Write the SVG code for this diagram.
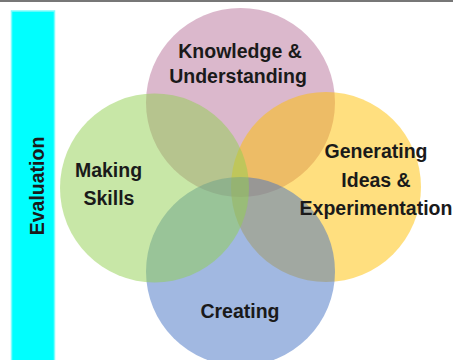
<svg xmlns="http://www.w3.org/2000/svg" width="453" height="360" viewBox="0 0 453 360">
  <style>
    .c { opacity: 0.5; }
    .lbl { font-family: "Liberation Sans", Arial, sans-serif; font-weight: bold; font-size: 19.5px; fill: #1a1a1a; text-anchor: middle; }
  </style>
  <rect x="0" y="0" width="453" height="360" fill="#ffffff"/>
  <rect x="0" y="0" width="453" height="2" fill="#777777"/>
  <g id="evaluation">
    <rect x="11.5" y="11" width="43" height="350" fill="#00ffff" stroke="#7ffcfc" stroke-width="1.5"/>
    <text class="lbl" transform="translate(44,186) rotate(-90)">Evaluation</text>
  </g>
  <g id="knowledge"><circle class="c" cx="240.5" cy="102.5" r="94.5" fill="#b77199"/></g>
  <g id="generating"><circle class="c" cx="326" cy="187" r="95" fill="#ffc000"/></g>
  <g id="creating"><circle class="c" cx="240.5" cy="271.5" r="94.5" fill="#4472c4"/></g>
  <g id="making"><circle class="c" cx="154.5" cy="188" r="94.5" fill="#92d050"/></g>
  <g id="connectors"></g>
  <g id="labels">
    <text class="lbl" x="240" y="58">Knowledge &amp;</text>
    <text class="lbl" x="238" y="83">Understanding</text>
    <text class="lbl" x="108.5" y="177">Making</text>
    <text class="lbl" x="109" y="205">Skills</text>
    <text class="lbl" x="376" y="158">Generating</text>
    <text class="lbl" x="376" y="187">Ideas &amp;</text>
    <text class="lbl" x="376" y="215">Experimentation</text>
    <text class="lbl" x="240" y="318">Creating</text>
  </g>
</svg>
